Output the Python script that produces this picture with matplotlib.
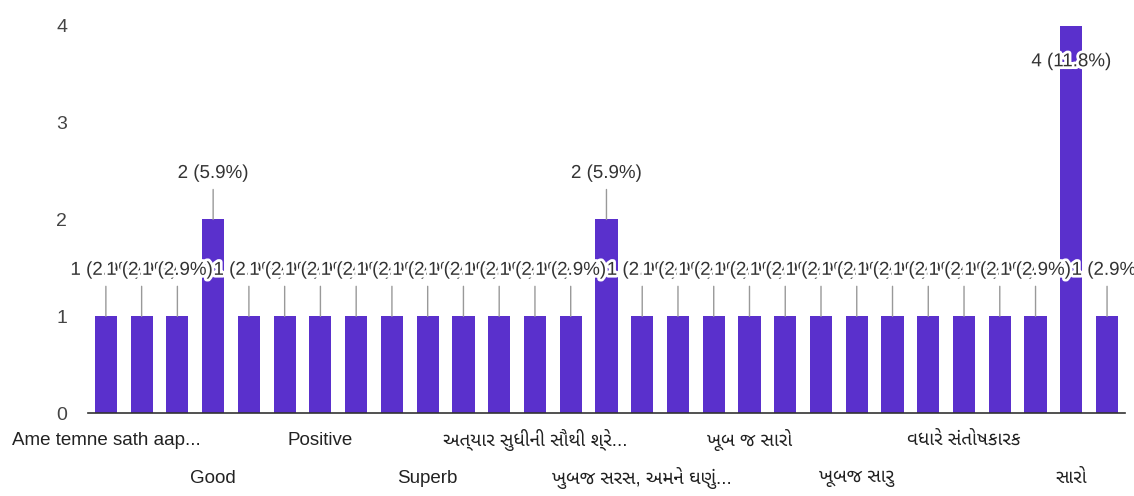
import matplotlib
matplotlib.use('Agg')
import matplotlib.pyplot as plt
import matplotlib.patheffects as pe
import numpy as np

plt.rcParams['font.family'] = ['Liberation Sans', 'Noto Sans Gujarati', 'DejaVu Sans']

# 29 answers, only every third one gets a visible axis label in the original
labels = [
    'Ame temne sath aap...', '', '',
    'Good', '', '',
    'Positive', '', '',
    'Superb', '', '',
    'અત્યાર સુધીની સૌથી શ્રે...', '', '',
    'ખુબજ સરસ, અમને ઘણું...', '', '',
    'ખૂબ જ સારો', '', '',
    'ખૂબજ સારુ', '', '',
    'વધારે સંતોષકારક', '', '',
    'સારો', '',
]
counts = [1, 1, 1, 2, 1, 1, 1, 1, 1, 1, 1, 1, 1, 1, 2,
          1, 1, 1, 1, 1, 1, 1, 1, 1, 1, 1, 1, 4, 1]
yticks = [0, 1, 2, 3, 4]

bar_color = '#5a30cc'
total = sum(counts)
x = np.arange(len(counts))

fig = plt.figure(figsize=(11.34, 4.96), dpi=100)
ax = fig.add_axes([0.0776, 0.167, 0.9144, 0.781])

ax.bar(x, counts, width=0.62, color=bar_color, zorder=2)
ax.set_xlim(-0.5, len(counts) - 0.5)
ax.set_ylim(0, 4)

for s in ['top', 'right', 'left']:
    ax.spines[s].set_visible(False)
ax.spines['bottom'].set_color('#333333')
ax.spines['bottom'].set_linewidth(1.2)
ax.spines['bottom'].set_zorder(3)

ax.set_yticks(yticks)
ax.set_yticklabels([str(t) for t in yticks])
ax.tick_params(axis='y', length=0, pad=15, labelsize=14, labelcolor='#444444')
ax.set_xticks([])

# category labels in two staggered rows
row = 0
for i, lab in enumerate(labels):
    if not lab:
        continue
    off = -27 if row == 0 else -65
    ax.annotate(lab, xy=(i, 0), xycoords=('data', 'axes fraction'),
                xytext=(0, off), textcoords='offset pixels',
                ha='center', va='center', fontsize=13.5, color='#222222',
                annotation_clip=False)
    row = 1 - row

# value annotations, drawn in order so later ones overlap earlier ones
halo = [pe.withStroke(linewidth=4, foreground='white')]
for i, c in enumerate(counts):
    txt = '%d (%.1f%%)' % (c, 100.0 * c / total)
    if c >= 4:
        ax.annotate(txt, xy=(i, c), xytext=(0, -36), textcoords='offset pixels',
                    ha='center', va='center', fontsize=13.5, color='#333333',
                    path_effects=halo, zorder=10 + i, annotation_clip=False)
        continue
    ax.annotate('', xy=(i, c), xytext=(0, 30), textcoords='offset pixels',
                arrowprops=dict(arrowstyle='-', color='#999999', lw=1,
                                shrinkA=0, shrinkB=0), zorder=3)
    ax.annotate(txt, xy=(i, c), xytext=(0, 46), textcoords='offset pixels',
                ha='center', va='center', fontsize=13.5, color='#333333',
                path_effects=halo, zorder=10 + i, annotation_clip=False)

fig.savefig('out.png', dpi=100, facecolor='white')
